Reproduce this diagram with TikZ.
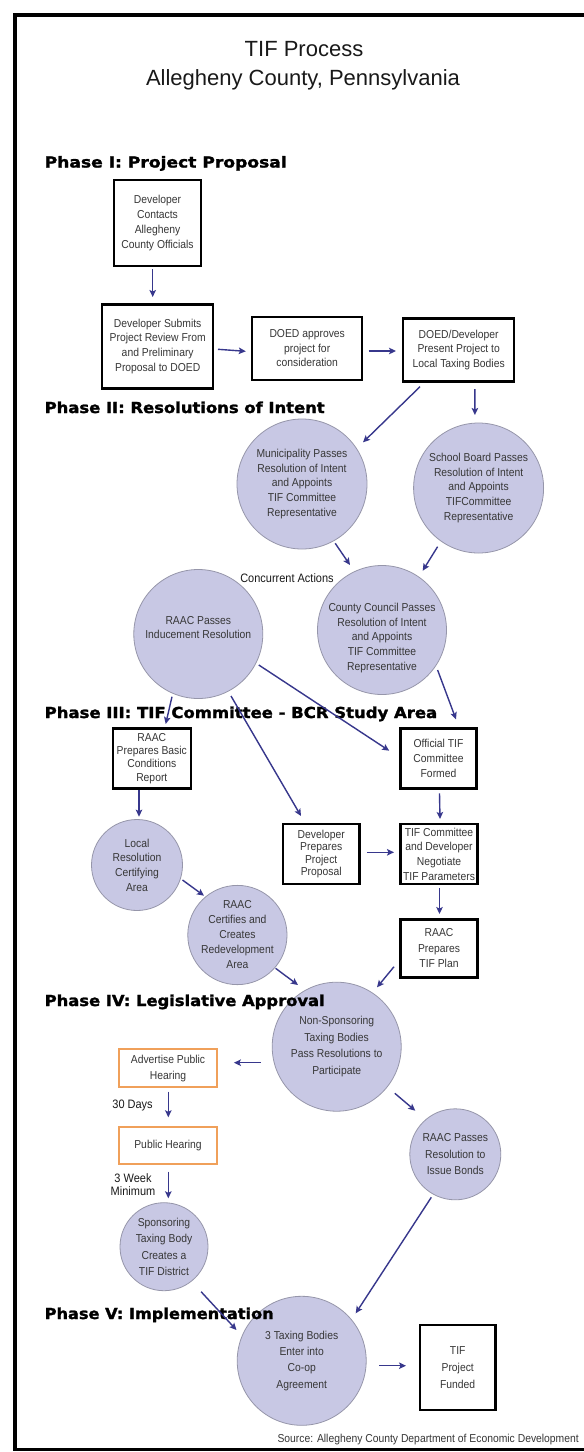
\documentclass[tikz,border=0pt]{standalone}
\usepackage{graphicx}
\usepackage{fontspec}
\setmainfont{Liberation Sans}
\newfontfamily\headfont{DejaVu Sans}[FakeBold=1.6]
\newfontfamily\nodefont{Liberation Sans}[FakeStretch=0.9]
\usetikzlibrary{arrows.meta,calc}
\definecolor{lav}{RGB}{200,200,228}
\definecolor{lavline}{RGB}{150,150,170}
\definecolor{arrowblue}{RGB}{55,55,140}
\definecolor{orangeline}{RGB}{240,160,90}
\definecolor{txt}{RGB}{55,55,55}
\newcommand\phasehead[2]{\resizebox{#1pt}{11.5pt}{\headfont\bfseries #2}}
\newcommand\arrw[6]{\draw[arr] ([shift={(#2,#3)}]#1.center) -- ([shift={(#5,#6)}]#4.center);}
\newcommand\nf[1]{\nodefont\fontsize{11.5}{#1}\selectfont}
\tikzset{
  boxst/.style={draw=black, line width=2.4pt, fill=white, inner sep=0pt, align=center, text=txt,
    font=\nf{14.7}},
  circst/.style={circle, draw=lavline, line width=0.8pt, fill=lav, inner sep=0pt, align=center, text=txt,
    font=\nf{14.7}},
  obox/.style={boxst, draw=orangeline, line width=1.8pt},
  ctext/.style={inner sep=0pt, align=center, text=txt, font=\nf{14.7}},
  arr/.style={draw=arrowblue, line width=1.4pt, -{Stealth[length=7pt,width=6.5pt,inset=1.5pt]}},
  lbl/.style={inner sep=0pt, align=center, text=black!90, font=\nodefont\fontsize{12.2}{13}\selectfont},
  head/.style={anchor=base west, inner sep=0pt, text=black},
  ttl/.style={anchor=base, inner sep=0pt, text=black!90, font=\fontsize{22}{26}\selectfont}
}
\begin{document}
\begin{tikzpicture}[x=1pt,y=-1pt]
\useasboundingbox (0,0) rectangle (584,1452);
\fill[white] (0,0) rectangle (584,1452);
% frame
\draw[line width=3.5pt, black] (15,1449) -- (15,15) -- (590,15);
\draw[line width=3pt, black] (13.25,1449) -- (590,1449);
% title
\node[ttl] (t1) at (304,56.5) {TIF Process};
\node[ttl] (t2) at (303,85) {Allegheny County, Pennsylvania};
% Phase I
\node[boxst, minimum width=87pt, minimum height=86pt] (b1) at (157.5,223) {Developer\\Contacts\\Allegheny\\County Officials};
\node[boxst, minimum width=111pt, minimum height=84pt] (b2) at (157.7,346.3) {Developer Submits\\Project Review From\\and Preliminary\\Proposal to DOED};
\node[boxst, minimum width=110pt, minimum height=63pt] (b3) at (307.2,348.3) {DOED approves\\project for\\consideration};
\node[boxst, minimum width=111pt, minimum height=63pt] (b4) at (458.7,350) {DOED/Developer\\Present Project to\\Local Taxing Bodies};
% Phase II
\node[circst, minimum size=130pt] (muni) at (302,484) {Municipality Passes\\Resolution of Intent\\and Appoints\\TIF Committee\\Representative};
\node[circst, minimum size=130pt] (school) at (478.6,488) {School Board Passes\\Resolution of Intent\\and Appoints\\TIFCommittee\\Representative};
\node[circst, minimum size=129pt] (raac) at (198.3,634) {};
\node[ctext] (raact) at (198.3,627.5) {RAAC Passes\\Inducement Resolution};
\node[circst, minimum size=129pt] (county) at (382,630) {};
\node[ctext] (countyt) at (382,638) {County Council Passes\\Resolution of Intent\\and Appoints\\TIF Committee\\Representative};
\node[lbl] (conc) at (287,578.3) {Concurrent Actions};
% Phase III
\node[boxst, minimum width=78pt, minimum height=60pt, font=\nf{13.3}] (prep) at (151.8,758.3) {RAAC\\Prepares Basic\\Conditions\\Report};
\node[boxst, minimum width=76.3pt, minimum height=60pt] (official) at (438.5,758.3) {Official TIF\\Committee\\Formed};
\node[circst, minimum size=91pt] (local) at (137,865) {Local\\Resolution\\Certifying\\Area};
\node[boxst, minimum width=76.4pt, minimum height=60pt, font=\nf{12.6}] (devprep) at (321.2,854) {Developer\\Prepares\\Project\\Proposal};
\node[boxst, minimum width=77pt, minimum height=60pt] (negot) at (439,854) {TIF Committee\\and Developer\\Negotiate\\TIF Parameters};
\node[circst, minimum size=91pt, font=\nf{15}] (certify) at (237.4,935) {RAAC\\Certifies and\\Creates\\Redevelopment\\Area};
\node[boxst, minimum width=77pt, minimum height=58pt, font=\nf{15.3}] (plan) at (439,948.3) {RAAC\\Prepares\\TIF Plan};
% Phase IV
\node[circst, minimum size=129pt, font=\nf{16.6}] (nonsp) at (336.7,1046.7) {Non-Sponsoring\\Taxing Bodies\\Pass Resolutions to\\Participate};
\node[obox, minimum width=97.6pt, minimum height=38pt, font=\nf{15.6}] (adv) at (168,1068.3) {Advertise Public\\Hearing};
\node[obox, minimum width=97.6pt, minimum height=37.3pt] (pubh) at (168,1145.3) {Public Hearing};
\node[lbl] (days) at (132.6,1105) {30 Days};
\node[lbl] (weeks) at (133,1184.6) {3 Week\\Minimum};
\node[circst, minimum size=91pt, font=\nf{16.4}] (bonds) at (455.3,1154.3) {RAAC Passes\\Resolution to\\Issue Bonds};
\node[circst, minimum size=88pt, font=\nf{16.4}] (spons) at (164,1246.7) {Sponsoring\\Taxing Body\\Creates a\\TIF District};
% Phase V
\node[circst, minimum size=129pt, font=\nf{16.4}] (coop) at (301.7,1360.8) {3 Taxing Bodies\\Enter into\\Co-op\\Agreement};
\node[boxst, minimum width=75.2pt, minimum height=85pt, font=\nf{16.6}] (funded) at (457.7,1367.5) {TIF\\Project\\Funded};
\node[ctext, anchor=base east, font=\nodefont\fontsize{11.5}{12}\selectfont] (src) at (579,1442.5) {Source: Allegheny County Department of Economic Development};
% headings
\node[head] (h1) at (44.5,167.5) {\phasehead{242}{Phase I: Project Proposal}};
\node[head] (h2) at (44.5,413) {\phasehead{280}{Phase II: Resolutions of Intent}};
\node[head] (h3) at (44.5,718) {\phasehead{392.5}{Phase III: TIF Committee - BCR Study Area}};
\node[head] (h4) at (44.5,1006) {\phasehead{280}{Phase IV: Legislative Approval}};
\node[head] (h5) at (44.5,1319) {\phasehead{229}{Phase V: Implementation}};
% arrows
\arrw{b1}{-4.8}{46}{b2}{-5}{-49.3}
\arrw{b2}{60.3}{3}{b3}{-61.4}{3}
\arrw{b3}{61.5}{2.7}{b4}{-62.7}{1}
\arrw{b4}{-38.7}{36.7}{muni}{61}{-41.7}
\arrw{b4}{16.2}{39}{school}{-3.7}{-73}
\arrw{muni}{33.2}{59.3}{county}{-32}{-65}
\arrw{school}{-41}{58.7}{county}{40.7}{-59.3}
\arrw{raac}{60.5}{31}{official}{-49.3}{-7.6}
\arrw{raac}{32.7}{62}{devprep}{-20.2}{-38}
\arrw{raac}{-26.3}{62.7}{prep}{13.9}{-34.3}
\arrw{county}{55.6}{40}{official}{17.5}{-39}
\arrw{prep}{-12.8}{31.7}{local}{2}{-48.3}
\arrw{official}{1}{35}{negot}{1}{-35}
\arrw{devprep}{45.6}{-1.7}{negot}{-45}{-1.7}
\arrw{negot}{0.5}{34.3}{plan}{0.5}{-34.3}
\arrw{local}{45.5}{15}{certify}{-33.4}{-39.3}
\arrw{certify}{38.2}{33.3}{nonsp}{-38.7}{-61.7}
\arrw{plan}{-45}{18.4}{nonsp}{40.3}{-59.4}
\arrw{nonsp}{-76}{16}{adv}{65.9}{-5.6}
\arrw{adv}{0.3}{23.4}{pubh}{0.3}{-28}
\arrw{nonsp}{58.1}{46.6}{bonds}{-40}{-43.6}
\arrw{pubh}{0.3}{26.4}{spons}{4.3}{-48.4}
\arrw{bonds}{-24}{43}{coop}{54}{-47.5}
\arrw{spons}{37.1}{45}{coop}{-65.2}{-30.8}
\arrw{coop}{77.4}{4.9}{funded}{-51.7}{-1.8}
\end{tikzpicture}
\end{document}
